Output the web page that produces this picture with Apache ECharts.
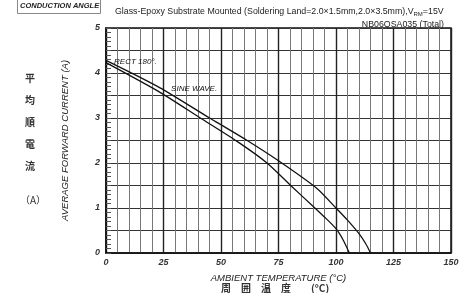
<!DOCTYPE html>
<html>
<head>
<meta charset="utf-8">
<style>
html,body{margin:0;padding:0;background:#fff;}
#c{width:472px;height:293px;}
</style>
<script src="https://cdn.jsdelivr.net/npm/echarts@6/dist/echarts.min.js"></script>
</head>
<body>
<div id="c"></div>
<script>
// Data
var sineTemp = [0, 23.5, 45, 50, 61.4, 75, 91.6, 100, 105, 110, 113, 115];
var sineCurrent = [4.28, 3.67, 3.0, 2.85, 2.5, 2.05, 1.44, 1.0, 0.73, 0.43, 0.2, 0];
var rectTemp = [0, 23.5, 41, 57, 70, 80.3, 90, 95, 100, 103, 105.8];
var rectCurrent = [4.23, 3.57, 3.0, 2.48, 2.0, 1.5, 1.04, 0.8, 0.54, 0.3, 0];
var xMin = 0, xMax = 150, xStep = 25;
var yMin = 0, yMax = 5, yStep = 0.5;
var rectLabelAt = [3.5, 4.26];
var sineLabelAt = [28.3, 3.65];

function pairs(xs, ys) { return xs.map(function (x, i) { return [x, ys[i]]; }); }

var chart = echarts.init(document.getElementById('c'), null, {renderer: 'canvas'});
var font = 'Liberation Sans, Arial, sans-serif';
chart.setOption({
  animation: false,
  backgroundColor: '#fff',
  title: [{
    text: 'Glass-Epoxy Substrate Mounted (Soldering Land=2.0×1.5mm,2.0×3.5mm),V{sub|RM}=15V',
    left: 110, top: 2,
    textStyle: {fontFamily: font, fontSize: 8.8, fontWeight: 'normal', color: '#222',
      rich: {sub: {fontSize: 6, verticalAlign: 'bottom', padding: [4, 0, 0, 0], fontFamily: font, color: '#222'}}}
  }, {
    text: 'NB06QSA035 (Total)',
    right: 23, top: 15,
    textStyle: {fontFamily: font, fontSize: 8.8, fontWeight: 'normal', color: '#222'}
  }],
  grid: {left: 106, top: 28, right: 21, bottom: 40, show: true, borderColor: '#111', borderWidth: 1.5, backgroundColor: 'transparent'},
  xAxis: {
    type: 'value', min: xMin, max: xMax, interval: xStep,
    name: 'AMBIENT TEMPERATURE (°C)', nameLocation: 'middle', nameGap: 20,
    nameTextStyle: {fontFamily: font, fontSize: 9.5, fontStyle: 'italic', color: '#222'},
    axisLine: {lineStyle: {color: '#111', width: 1.5}},
    axisTick: {show: false},
    axisLabel: {fontFamily: font, fontSize: 9, fontStyle: 'italic', fontWeight: 'bold', color: '#333', margin: 5},
    splitLine: {show: true, lineStyle: {color: '#222', width: 1.4}},
    minorTick: {show: false, splitNumber: 5},
    minorSplitLine: {show: true, lineStyle: {color: '#777', width: 1}}
  },
  yAxis: {
    type: 'value', min: yMin, max: yMax, interval: yStep,
    name: 'AVERAGE FORWARD CURRENT (A)', nameLocation: 'middle', nameGap: 36,
    nameTextStyle: {fontFamily: font, fontSize: 9.5, fontStyle: 'italic', color: '#222'},
    axisLine: {lineStyle: {color: '#111', width: 1.5}},
    axisTick: {show: true, inside: true, length: 5, lineStyle: {color: '#555'}},
    minorTick: {show: true, splitNumber: 5, length: 5, lineStyle: {color: '#555'}},
    axisLabel: {fontFamily: font, fontSize: 9, fontStyle: 'italic', fontWeight: 'bold', color: '#333', margin: 6,
      formatter: function (v) { return Math.abs(v - Math.round(v)) < 1e-6 ? String(Math.round(v)) : ''; }},
    splitLine: {show: true, lineStyle: {color: '#333', width: 1}}
  },
  series: [
    {
      name: 'SINE WAVE', type: 'line', data: pairs(sineTemp, sineCurrent),
      smooth: 0.25, showSymbol: false, symbol: 'none',
      lineStyle: {color: '#111', width: 1.3},
      markPoint: {symbol: 'circle', symbolSize: 0, data: [{coord: sineLabelAt, value: 'SINE WAVE.'}],
        label: {show: true, position: 'right', distance: 0, formatter: 'SINE WAVE.', fontFamily: font, fontSize: 8, fontStyle: 'italic', color: '#111'}}
    },
    {
      name: 'RECT 180°', type: 'line', data: pairs(rectTemp, rectCurrent),
      smooth: 0.25, showSymbol: false, symbol: 'none',
      lineStyle: {color: '#111', width: 1.3},
      markPoint: {symbol: 'circle', symbolSize: 0, data: [{coord: rectLabelAt, value: 'RECT 180°.'}],
        label: {show: true, position: 'right', distance: 0, formatter: 'RECT 180°.', fontFamily: font, fontSize: 8, fontStyle: 'italic', color: '#111'}}
    }
  ],
  graphic: [
    {type: 'rect', left: 17, top: -6, shape: {width: 83, height: 19}, style: {fill: '#fff', stroke: '#888', lineWidth: 1}},
    {type: 'text', left: 20, top: 2, style: {text: 'CONDUCTION ANGLE', font: 'italic bold 7.5px ' + font, fill: '#222'}},
    {type: 'text', left: 25, top: 73, style: {text: '平\n\n均\n\n順\n\n電\n\n流', font: 'bold 10px "Noto Sans CJK JP"', fill: '#333', lineHeight: 11}},
    {type: 'text', left: 20, top: 195, style: {text: '（A）', font: '10px "Noto Sans CJK JP"', fill: '#333'}},
    {type: 'text', left: 221, top: 283, style: {text: '周　囲　温　度　　(°C)', font: 'bold 10px "Noto Sans CJK JP"', fill: '#333'}}
  ]
});
</script>
</body>
</html>
